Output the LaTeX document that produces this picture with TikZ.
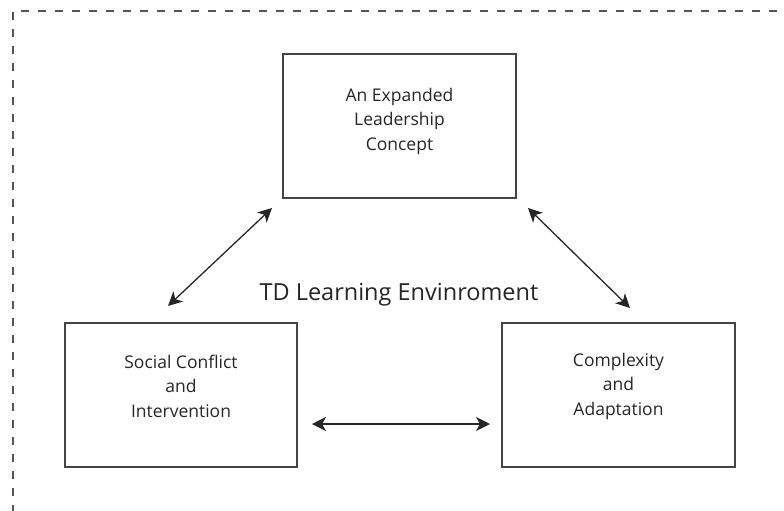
\documentclass[tikz,border=0pt]{standalone}
\usepackage{fontspec}
\setmainfont{Open Sans}
\usetikzlibrary{arrows.meta}
\definecolor{dashgray}{HTML}{555555}
\definecolor{boxgray}{HTML}{444444}
\tikzset{
  conceptbox/.style={draw=boxgray, line width=1.3pt, rectangle, inner sep=0pt},
  boxtext/.style={align=center, font=\fontsize{17.5}{24.5}\selectfont, text=black!85},
  linkarrow/.style={line width=1.3pt, black!85, {Stealth[length=14pt,width=14pt,inset=4pt]}-{Stealth[length=14pt,width=14pt,inset=4pt]}},
  frameline/.style={draw=dashgray, line width=1.4pt, dash pattern=on 8pt off 9pt}
}
\begin{document}
\begin{tikzpicture}[x=1pt,y=-1pt]
\useasboundingbox (0,0) rectangle (784,511);
\begin{scope}
\clip (0,0) rectangle (784,511);
\draw[frameline] (13,530) -- (13,11) -- (800,11);
\end{scope}
% boxes
\node[conceptbox, minimum width=233pt, minimum height=144pt] (top) at (399.5,126) {};
\node[conceptbox, minimum width=232pt, minimum height=144pt] (left) at (181,395) {};
\node[conceptbox, minimum width=233pt, minimum height=144pt] (right) at (618.5,395) {};
% texts
\node[boxtext] (toptext) at (399.5,121) {An Expanded\\Leadership\\Concept};
\node[boxtext] (lefttext) at (181,386) {Social Conflict\\and\\Intervention};
\node[boxtext] (righttext) at (618.5,386) {Complexity\\and\\Adaptation};
\node[font=\fontsize{23.5}{28}\selectfont, text=black!85] (title) at (399,295) {TD Learning Envinroment};
% arrow endpoints
\coordinate (a1) at (168,306);
\coordinate (a2) at (272,208);
\coordinate (b1) at (528,208);
\coordinate (b2) at (630,308);
\coordinate (c1) at (312,424);
\coordinate (c2) at (490,424);
\draw[linkarrow] (a1) -- (a2);
\draw[linkarrow] (b1) -- (b2);
\draw[linkarrow] (c1) -- (c2);
\end{tikzpicture}
\end{document}
